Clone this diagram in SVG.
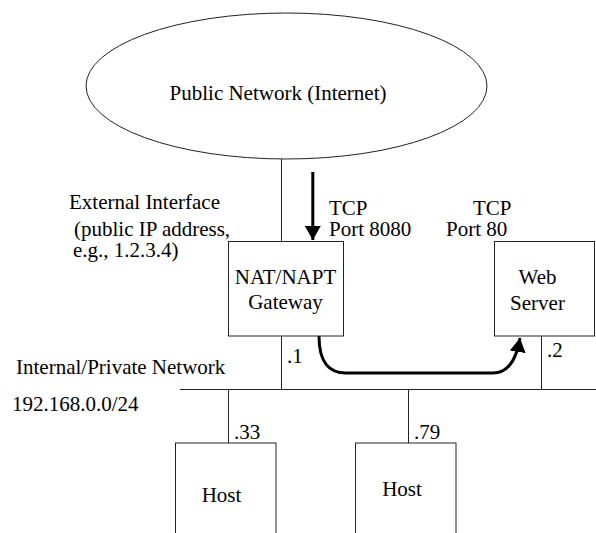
<svg xmlns="http://www.w3.org/2000/svg" width="596" height="533" viewBox="0 0 596 533" font-family="Liberation Serif, DejaVu Serif, serif" font-size="21">
<style>
.thin{stroke:#222;stroke-width:1;fill:none}
.node{stroke:#222;stroke-width:1;fill:#fff}
.thick{stroke:#000;stroke-width:3;fill:none}
.mid{text-anchor:middle}
</style>
<defs>
<marker id="ah" markerUnits="userSpaceOnUse" markerWidth="16" markerHeight="16" refX="14" refY="8" orient="auto">
<path d="M0,0 L14,8 L0,16 Z" fill="#000"/>
</marker>
</defs>
<g id="connectors">
<line class="thin" x1="281.5" y1="159" x2="281.5" y2="241"/>
<line class="thin" x1="281.5" y1="336" x2="281.5" y2="389.5"/>
<line class="thin" x1="541.5" y1="336" x2="541.5" y2="389.5"/>
<line class="thin" x1="180" y1="389.5" x2="596" y2="389.5"/>
<line class="thin" x1="228.5" y1="389.5" x2="228.5" y2="443"/>
<line class="thin" x1="408.5" y1="389.5" x2="408.5" y2="443"/>
<line class="thick" x1="312.8" y1="172" x2="312.8" y2="240" marker-end="url(#ah)"/>
<path class="thick" d="M319,336 C319,364 330,373 346,373 L493,373 C507,373 516,362 520,338" marker-end="url(#ah)"/>
</g>
<g id="internet">
<ellipse class="node" cx="286.5" cy="86" rx="200.5" ry="73"/>
<text x="278" y="100" class="mid">Public Network (Internet)</text>
</g>
<g id="gateway">
<rect class="node" x="228.5" y="241.5" width="115" height="94.5"/>
<text x="285.5" y="284" class="mid">NAT/NAPT</text>
<text x="285.5" y="309" class="mid">Gateway</text>
</g>
<g id="webserver">
<rect class="node" x="494.5" y="241.5" width="100" height="94.5"/>
<text x="537.5" y="284" class="mid">Web</text>
<text x="537.5" y="310" class="mid">Server</text>
</g>
<g id="host1">
<rect class="node" x="175.5" y="443" width="100.5" height="100"/>
<text x="221.5" y="502" class="mid">Host</text>
</g>
<g id="host2">
<rect class="node" x="355.5" y="443" width="100.5" height="100"/>
<text x="402" y="496" class="mid">Host</text>
</g>
<g id="labels">
<text x="69" y="209">External Interface</text>
<text x="74" y="236">(public IP address,</text>
<text x="73" y="257">e.g., 1.2.3.4)</text>
<text x="329" y="215">TCP</text>
<text x="329" y="236">Port 8080</text>
<text x="473" y="215">TCP</text>
<text x="446" y="236">Port 80</text>
<text x="287" y="363">.1</text>
<text x="547" y="357">.2</text>
<text x="16" y="374">Internal/Private Network</text>
<text x="12" y="411">192.168.0.0/24</text>
<text x="234" y="439">.33</text>
<text x="414" y="439">.79</text>
</g>
</svg>
